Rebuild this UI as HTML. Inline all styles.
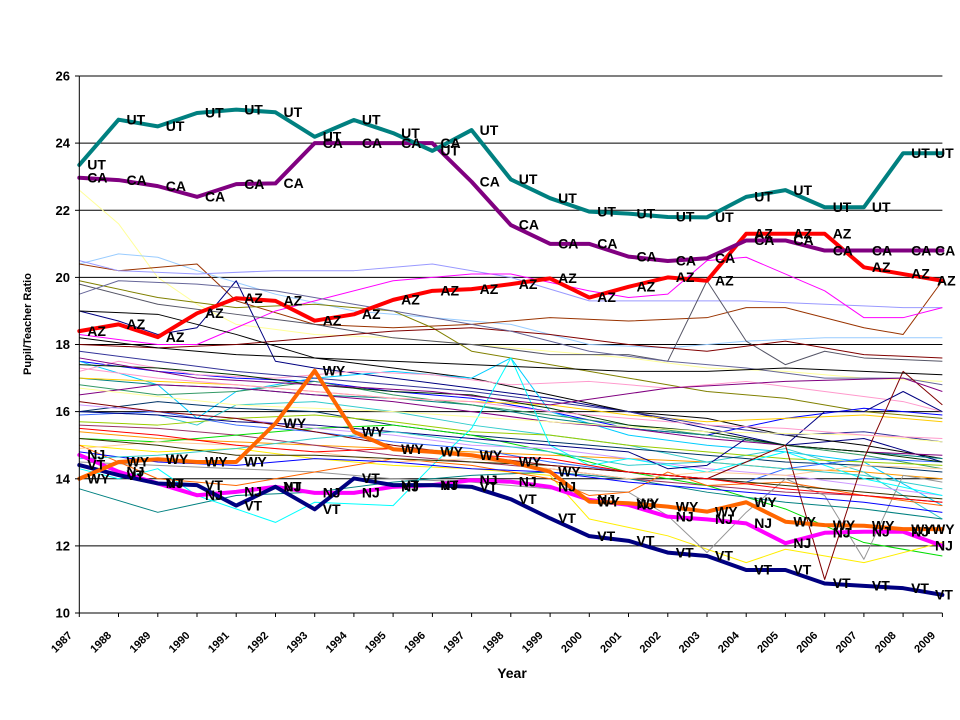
<!DOCTYPE html>
<html><head><meta charset="utf-8"><style>
html,body{margin:0;padding:0;background:#fff;}
svg{display:block;}
.t{font-family:"Liberation Sans",Arial,sans-serif;font-weight:bold;fill:#000;}
.th{fill:none;stroke-width:1;stroke-linejoin:round;}
.tk{fill:none;stroke-width:4;stroke-linejoin:round;stroke-linecap:round;}
.dl{font-family:"Liberation Sans",Arial,sans-serif;font-weight:bold;font-size:14px;fill:#000;}
</style></head><body>
<svg width="960" height="720" viewBox="0 0 960 720" xmlns="http://www.w3.org/2000/svg">
<rect width="960" height="720" fill="#fff"/>
<g stroke="#000" stroke-width="1">
<line x1="79.3" y1="76" x2="942.4" y2="76"/>
<line x1="79.3" y1="143.1" x2="942.4" y2="143.1"/>
<line x1="79.3" y1="210.3" x2="942.4" y2="210.3"/>
<line x1="79.3" y1="277.4" x2="942.4" y2="277.4"/>
<line x1="79.3" y1="344.5" x2="942.4" y2="344.5"/>
<line x1="79.3" y1="411.6" x2="942.4" y2="411.6"/>
<line x1="79.3" y1="478.8" x2="942.4" y2="478.8"/>
<line x1="79.3" y1="545.9" x2="942.4" y2="545.9"/>
</g>
<g transform="translate(79.3,948.6) scale(39.23,-33.56)">
<g class="th">
<polyline vector-effect="non-scaling-stroke" stroke="#FFFF99" points="0,22.6 1,21.6 2,20.0 3,19.2 4,18.6 6,18.3 8,18.2 10,18.0 12,17.8 14,17.6 16,17.3 18,17.2 20,17.0 22,16.9"/>
<polyline vector-effect="non-scaling-stroke" stroke="#99CCFF" points="0,20.4 1,20.7 2,20.6 3,20.2 5,19.5 7,19.0 9,18.8 11,18.6 13,18.0 15,17.9 17,18.1 19,18.2 21,18.2 22,18.2"/>
<polyline vector-effect="non-scaling-stroke" stroke="#993300" points="0,20.4 1,20.2 2,20.3 3,20.4 4,19.3 6,18.6 8,18.5 10,18.6 12,18.8 14,18.7 16,18.8 17,19.1 18,19.1 20,18.5 21,18.3 22,19.9"/>
<polyline vector-effect="non-scaling-stroke" stroke="#9999FF" points="0,20.5 1,20.2 3,20.1 5,20.2 7,20.2 9,20.4 11,20.0 13,19.3 15,19.3 17,19.3 19,19.2 21,19.1 22,19.1"/>
<polyline vector-effect="non-scaling-stroke" stroke="#FF00FF" points="0,18.3 2,18.0 3,18.0 5,19.0 6,19.3 8,19.9 10,20.1 11,20.1 13,19.6 14,19.4 15,19.5 16,20.5 17,20.6 19,19.6 20,18.8 21,18.8 22,19.1"/>
<polyline vector-effect="non-scaling-stroke" stroke="#808000" points="0,19.9 2,19.4 4,19.1 6,19.2 8,19.0 9,18.5 10,17.8 12,17.4 14,17.0 16,16.6 18,16.4 20,16.0 22,15.8"/>
<polyline vector-effect="non-scaling-stroke" stroke="#000080" points="0,19.0 1,18.7 2,18.3 3,18.5 4,19.9 5,17.5 6,17.3 8,17.0 10,16.7 12,16.4 14,16.0 16,15.5 18,15.0 20,15.2 22,14.5"/>
<polyline vector-effect="non-scaling-stroke" stroke="#555566" points="0,19.8 2,19.2 4,18.9 6,18.6 8,18.2 10,18.0 12,17.7 14,17.7 15,17.5 16,19.9 17,18.1 18,17.4 19,17.8 20,17.6 22,17.5"/>
<polyline vector-effect="non-scaling-stroke" stroke="#800000" points="0,18.0 2,17.9 4,18.0 6,18.2 8,18.4 10,18.5 12,18.3 14,18.0 16,17.8 18,18.1 20,17.7 22,17.6"/>
<polyline vector-effect="non-scaling-stroke" stroke="#000000" points="0,19.0 2,18.9 4,18.3 6,17.6 8,17.3 10,17.0 12,16.5 14,16.0 16,15.8 18,15.3 20,15.0 22,14.6"/>
<polyline vector-effect="non-scaling-stroke" stroke="#666699" points="0,19.5 1,19.9 3,19.8 5,19.6 7,19.2 9,18.8 11,18.4 13,17.8 15,17.5 17,17.3 19,17.0 21,17.0 22,16.8"/>
<polyline vector-effect="non-scaling-stroke" stroke="#0000FF" points="0,17.5 2,17.2 4,17.0 6,16.9 8,16.6 10,16.4 12,16.0 14,15.5 16,15.3 18,15.8 20,16.1 22,15.9"/>
<polyline vector-effect="non-scaling-stroke" stroke="#00CCFF" points="0,17.5 2,16.8 3,15.8 4,16.6 6,17.0 8,17.2 10,17.0 11,17.6 12,16.0 14,15.3 16,15.0 18,14.8 20,14.5 22,13.2"/>
<polyline vector-effect="non-scaling-stroke" stroke="#FF99CC" points="0,17.2 1,17.5 3,17.1 5,17.0 7,17.2 9,17.1 11,16.8 13,16.9 15,16.7 17,16.9 19,16.6 21,16.3 22,16.0"/>
<polyline vector-effect="non-scaling-stroke" stroke="#008080" points="0,17.0 2,16.8 4,16.7 6,16.5 8,16.4 10,16.2 12,15.8 14,15.5 16,15.3 18,15.0 20,14.8 22,14.6"/>
<polyline vector-effect="non-scaling-stroke" stroke="#339966" points="0,16.8 2,16.5 4,16.6 6,16.9 8,16.5 10,16.2 12,15.9 14,15.6 16,15.3 18,15.0 20,14.7 22,14.3"/>
<polyline vector-effect="non-scaling-stroke" stroke="#FFCC00" points="0,17.0 2,16.9 4,16.8 6,16.6 8,16.4 10,16.3 12,16.2 14,15.9 16,15.7 18,15.8 20,15.9 22,15.7"/>
<polyline vector-effect="non-scaling-stroke" stroke="#800080" points="0,16.5 2,16.8 4,16.7 6,16.5 8,16.3 10,16.0 12,15.7 14,15.5 16,15.2 18,15.0 20,14.8 22,14.7"/>
<polyline vector-effect="non-scaling-stroke" stroke="#FF9900" points="0,15.4 2,15.2 4,15.1 6,15.0 8,14.9 10,14.8 12,14.7 14,14.6 16,14.5 18,14.3 20,14.2 22,14.0"/>
<polyline vector-effect="non-scaling-stroke" stroke="#33CCCC" points="0,16.0 2,15.9 3,15.6 4,16.2 6,16.3 8,16.0 10,15.6 12,15.3 14,15.0 16,14.5 18,14.9 20,14.2 22,12.8"/>
<polyline vector-effect="non-scaling-stroke" stroke="#003366" points="0,16.0 2,16.3 4,16.1 6,16.0 8,15.6 10,15.3 12,15.1 14,14.9 16,14.7 18,14.5 20,14.4 22,14.2"/>
<polyline vector-effect="non-scaling-stroke" stroke="#993366" points="0,15.6 2,15.5 4,15.3 6,15.0 8,14.7 10,14.5 12,14.3 14,14.0 16,13.8 18,13.6 20,13.5 22,13.3"/>
<polyline vector-effect="non-scaling-stroke" stroke="#99CC00" points="0,15.7 2,15.6 4,15.8 6,15.9 8,15.7 10,15.4 12,15.3 14,15.0 16,14.8 18,14.6 20,14.5 22,14.4"/>
<polyline vector-effect="non-scaling-stroke" stroke="#00DD00" points="0,15.2 2,15.1 4,15.3 6,15.5 8,15.6 10,15.3 12,14.8 14,14.2 16,13.8 18,13.1 20,12.1 22,11.7"/>
<polyline vector-effect="non-scaling-stroke" stroke="#FFEE00" points="0,15.0 2,14.8 4,14.9 6,14.6 8,14.4 10,14.3 12,14.1 13,12.8 15,12.3 17,11.5 18,11.9 20,11.5 22,12.1"/>
<polyline vector-effect="non-scaling-stroke" stroke="#CC99FF" points="0,16.2 2,16.0 4,15.8 6,15.5 8,15.3 10,15.0 12,14.9 14,14.6 16,14.3 18,14.1 20,13.8 22,13.5"/>
<polyline vector-effect="non-scaling-stroke" stroke="#969696" points="0,14.5 2,14.4 4,14.3 6,14.2 8,14.0 10,13.9 12,13.7 14,13.6 15,12.9 16,11.8 17,13.0 18,14.0 19,13.5 20,11.6 21,14.1 22,13.9"/>
<polyline vector-effect="non-scaling-stroke" stroke="#008080" points="0,13.7 2,13.0 4,13.5 6,13.6 8,13.9 10,14.1 12,14.2 14,14.0 16,13.6 18,13.3 20,13.1 22,12.8"/>
<polyline vector-effect="non-scaling-stroke" stroke="#00FFFF" points="0,14.3 1,14.0 2,14.3 3,13.5 5,12.7 6,13.3 8,13.2 9,14.4 10,15.5 11,17.6 12,15.0 13,14.4 14,14.6 16,14.2 18,14.8 20,14.0 22,13.5"/>
<polyline vector-effect="non-scaling-stroke" stroke="#FF6600" points="0,15.0 2,14.0 4,13.8 5,14.0 6,14.2 8,14.6 10,14.4 12,14.0 13,13.5 14,13.6 15,14.2 16,13.8 18,13.9 20,13.5 22,13.2"/>
<polyline vector-effect="non-scaling-stroke" stroke="#3366FF" points="0,15.9 2,16.0 4,15.6 6,15.4 8,15.1 10,14.9 12,14.5 14,14.2 16,14.0 17,13.9 18,14.3 20,14.6 22,14.5"/>
<polyline vector-effect="non-scaling-stroke" stroke="#FFCC99" points="0,14.9 2,15.1 4,15.0 6,14.8 8,14.5 10,14.6 12,14.3 14,14.0 16,14.2 18,14.1 20,14.4 22,14.3"/>
<polyline vector-effect="non-scaling-stroke" stroke="#000080" points="0,16.0 2,15.9 4,15.7 6,15.6 8,15.4 10,15.2 12,15.0 14,14.8 15,14.3 16,14.4 17,15.2 18,15.0 19,16.0 20,16.0 21,16.6 22,16.0"/>
<polyline vector-effect="non-scaling-stroke" stroke="#333399" points="0,17.8 2,17.5 4,17.2 6,17.0 8,16.8 10,16.6 12,16.3 14,16.0 16,15.6 18,15.3 20,15.4 22,15.1"/>
<polyline vector-effect="non-scaling-stroke" stroke="#003300" points="0,17.4 2,17.3 4,17.1 6,16.8 8,16.6 10,16.5 12,16.1 14,15.6 16,15.4 18,15.0 20,14.8 22,14.5"/>
<polyline vector-effect="non-scaling-stroke" stroke="#333300" points="0,15.2 2,15.0 4,14.7 6,14.7 8,14.6 10,14.5 12,14.4 14,14.2 16,14.0 18,13.8 20,13.6 22,13.4"/>
<polyline vector-effect="non-scaling-stroke" stroke="#800000" points="0,16.3 2,16.0 4,15.8 6,15.4 8,15.0 10,14.7 12,14.4 14,14.2 16,14.0 17,14.5 18,15.0 19,11.0 20,14.6 21,17.2 22,16.2"/>
<polyline vector-effect="non-scaling-stroke" stroke="#FF0000" points="0,15.5 2,15.3 4,15.0 6,14.8 8,14.9 10,14.7 12,14.6 14,14.2 16,14.0 18,13.7 20,13.5 22,13.3"/>
<polyline vector-effect="non-scaling-stroke" stroke="#0000FF" points="0,14.8 2,14.5 4,14.4 6,14.6 8,14.5 10,14.3 12,14.2 14,13.9 16,13.7 18,13.5 20,13.3 22,13.0"/>
<polyline vector-effect="non-scaling-stroke" stroke="#FFFF99" points="0,16.7 4,16.2 8,16.0 12,15.7 16,15.4 20,15.3 22,15.1"/>
<polyline vector-effect="non-scaling-stroke" stroke="#FF99CC" points="0,17.3 2,17.0 4,16.8 6,16.6 8,16.4 10,16.3 12,16.0 14,15.8 16,15.6 18,15.5 20,15.3 22,15.2"/>
<polyline vector-effect="non-scaling-stroke" stroke="#800080" points="0,17.6 3,17.0 6,16.8 9,16.6 12,16.2 15,16.7 18,16.9 21,17.0 22,16.6"/>
<polyline vector-effect="non-scaling-stroke" stroke="#000000" points="0,18.2 2,17.9 4,17.7 6,17.6 8,17.5 10,17.4 12,17.3 14,17.2 16,17.2 18,17.3 20,17.2 22,17.1"/>
<polyline vector-effect="non-scaling-stroke" stroke="#33CCCC" points="0,14.6 2,14.7 4,14.9 6,15.2 8,15.4 10,15.1 12,14.8 14,14.4 16,14.5 18,14.3 20,14.1 22,13.7"/>
</g>
<g class="tk">
<polyline vector-effect="non-scaling-stroke" stroke="#FF0000" points="0,18.4 1,18.6 2,18.22 3,18.93 4,19.38 5,19.3 6,18.71 7,18.9 8,19.33 9,19.6 10,19.65 11,19.8 12,19.97 13,19.4 14,19.72 15,20.0 16,19.9 17,21.3 18,21.3 19,21.3 20,20.3 21,20.1 22,19.9"/>
<polyline vector-effect="non-scaling-stroke" stroke="#800080" points="0,22.97 1,22.9 2,22.72 3,22.4 4,22.78 5,22.8 6,24.0 7,24.0 8,24.0 9,24.0 10,22.85 11,21.56 12,21.0 13,21.0 14,20.62 15,20.49 16,20.57 17,21.1 18,21.1 19,20.8 20,20.8 21,20.8 22,20.8"/>
<polyline vector-effect="non-scaling-stroke" stroke="#FF00FF" points="0,14.71 1,14.21 2,13.86 3,13.51 4,13.61 5,13.76 6,13.58 7,13.58 8,13.76 9,13.81 10,13.96 11,13.91 12,13.76 13,13.37 14,13.22 15,12.87 16,12.79 17,12.67 18,12.08 19,12.39 20,12.42 21,12.42 22,12.0"/>
<polyline vector-effect="non-scaling-stroke" stroke="#008080" points="0,23.35 1,24.7 2,24.5 3,24.9 4,25.0 5,24.92 6,24.19 7,24.69 8,24.3 9,23.77 10,24.39 11,22.92 12,22.36 13,21.96 14,21.9 15,21.8 16,21.79 17,22.4 18,22.6 19,22.09 20,22.09 21,23.7 22,23.7"/>
<polyline vector-effect="non-scaling-stroke" stroke="#000080" points="0,14.41 1,14.11 2,13.86 3,13.81 4,13.2 5,13.76 6,13.09 7,14.01 8,13.81 9,13.81 10,13.76 11,13.39 12,12.82 13,12.29 14,12.15 15,11.8 16,11.7 17,11.28 18,11.28 19,10.88 20,10.81 21,10.74 22,10.54"/>
<polyline vector-effect="non-scaling-stroke" stroke="#FF6600" points="0,14.0 1,14.5 2,14.58 3,14.5 4,14.5 5,15.65 6,17.22 7,15.4 8,14.88 9,14.8 10,14.7 11,14.5 12,14.21 13,13.32 14,13.27 15,13.17 16,13.02 17,13.3 18,12.72 19,12.62 20,12.6 21,12.5 22,12.5"/>
</g>
</g>
<g stroke="#000" stroke-width="1">
<line x1="79.3" y1="76" x2="79.3" y2="613"/>
<line x1="79.3" y1="613" x2="942.4" y2="613"/>
<line x1="75" y1="76" x2="79.3" y2="76"/>
<line x1="75" y1="143.1" x2="79.3" y2="143.1"/>
<line x1="75" y1="210.3" x2="79.3" y2="210.3"/>
<line x1="75" y1="277.4" x2="79.3" y2="277.4"/>
<line x1="75" y1="344.5" x2="79.3" y2="344.5"/>
<line x1="75" y1="411.6" x2="79.3" y2="411.6"/>
<line x1="75" y1="478.8" x2="79.3" y2="478.8"/>
<line x1="75" y1="545.9" x2="79.3" y2="545.9"/>
<line x1="75" y1="613" x2="79.3" y2="613"/>
</g>
<g stroke="#000" stroke-width="1">
<line x1="79.3" y1="613" x2="79.3" y2="617"/><line x1="118.5" y1="613" x2="118.5" y2="617"/><line x1="157.8" y1="613" x2="157.8" y2="617"/><line x1="197" y1="613" x2="197" y2="617"/><line x1="236.2" y1="613" x2="236.2" y2="617"/><line x1="275.5" y1="613" x2="275.5" y2="617"/><line x1="314.7" y1="613" x2="314.7" y2="617"/><line x1="353.9" y1="613" x2="353.9" y2="617"/><line x1="393.1" y1="613" x2="393.1" y2="617"/><line x1="432.4" y1="613" x2="432.4" y2="617"/><line x1="471.6" y1="613" x2="471.6" y2="617"/><line x1="510.8" y1="613" x2="510.8" y2="617"/><line x1="550.1" y1="613" x2="550.1" y2="617"/><line x1="589.3" y1="613" x2="589.3" y2="617"/><line x1="628.5" y1="613" x2="628.5" y2="617"/><line x1="667.8" y1="613" x2="667.8" y2="617"/><line x1="707" y1="613" x2="707" y2="617"/><line x1="746.2" y1="613" x2="746.2" y2="617"/><line x1="785.4" y1="613" x2="785.4" y2="617"/><line x1="824.7" y1="613" x2="824.7" y2="617"/><line x1="863.9" y1="613" x2="863.9" y2="617"/><line x1="903.1" y1="613" x2="903.1" y2="617"/><line x1="942.4" y1="613" x2="942.4" y2="617"/>
</g>
<g class="t" font-size="13" text-anchor="end">
<text x="70" y="80.5">26</text>
<text x="70" y="147.6">24</text>
<text x="70" y="214.8">22</text>
<text x="70" y="281.9">20</text>
<text x="70" y="349">18</text>
<text x="70" y="416.1">16</text>
<text x="70" y="483.3">14</text>
<text x="70" y="550.4">12</text>
<text x="70" y="617.5">10</text>
</g>
<g class="t" font-size="11" text-anchor="end">
<text transform="translate(72.8,636) rotate(-45)">1987</text>
<text transform="translate(112,636) rotate(-45)">1988</text>
<text transform="translate(151.3,636) rotate(-45)">1989</text>
<text transform="translate(190.5,636) rotate(-45)">1990</text>
<text transform="translate(229.7,636) rotate(-45)">1991</text>
<text transform="translate(269,636) rotate(-45)">1992</text>
<text transform="translate(308.2,636) rotate(-45)">1993</text>
<text transform="translate(347.4,636) rotate(-45)">1994</text>
<text transform="translate(386.6,636) rotate(-45)">1995</text>
<text transform="translate(425.9,636) rotate(-45)">1996</text>
<text transform="translate(465.1,636) rotate(-45)">1997</text>
<text transform="translate(504.3,636) rotate(-45)">1998</text>
<text transform="translate(543.6,636) rotate(-45)">1999</text>
<text transform="translate(582.8,636) rotate(-45)">2000</text>
<text transform="translate(622,636) rotate(-45)">2001</text>
<text transform="translate(661.3,636) rotate(-45)">2002</text>
<text transform="translate(700.5,636) rotate(-45)">2003</text>
<text transform="translate(739.7,636) rotate(-45)">2004</text>
<text transform="translate(778.9,636) rotate(-45)">2005</text>
<text transform="translate(818.2,636) rotate(-45)">2006</text>
<text transform="translate(857.4,636) rotate(-45)">2007</text>
<text transform="translate(896.6,636) rotate(-45)">2008</text>
<text transform="translate(935.9,636) rotate(-45)">2009</text>
</g>
<text class="t" font-size="11" text-anchor="middle" transform="translate(31,324) rotate(-90)">Pupil/Teacher Ratio</text>
<text class="t" font-size="14" text-anchor="middle" x="512" y="678">Year</text>
<g class="dl">
<text x="87.3" y="335.8">AZ</text><text x="126.5" y="329.1">AZ</text><text x="165.8" y="341.8">AZ</text><text x="205" y="318">AZ</text><text x="244.2" y="302.9">AZ</text><text x="283.5" y="305.6">AZ</text><text x="322.7" y="325.4">AZ</text><text x="361.9" y="319">AZ</text><text x="401.1" y="304.6">AZ</text><text x="440.4" y="295.5">AZ</text><text x="479.6" y="293.8">AZ</text><text x="518.8" y="288.8">AZ</text><text x="558.1" y="283.1">AZ</text><text x="597.3" y="302.2">AZ</text><text x="636.5" y="291.5">AZ</text><text x="675.8" y="282.1">AZ</text><text x="715" y="285.5">AZ</text><text x="754.2" y="238.5">AZ</text><text x="793.4" y="238.5">AZ</text><text x="832.7" y="238.5">AZ</text><text x="871.9" y="272">AZ</text><text x="911.1" y="278.7">AZ</text><text x="937" y="285.5">AZ</text>
<text x="87.3" y="182.4">CA</text><text x="126.5" y="184.8">CA</text><text x="165.8" y="190.8">CA</text><text x="205" y="201.6">CA</text><text x="244.2" y="188.8">CA</text><text x="283.5" y="188.1">CA</text><text x="322.7" y="147.9">CA</text><text x="361.9" y="147.9">CA</text><text x="401.1" y="147.9">CA</text><text x="440.4" y="147.9">CA</text><text x="479.6" y="186.5">CA</text><text x="518.8" y="229.7">CA</text><text x="558.1" y="248.5">CA</text><text x="597.3" y="248.5">CA</text><text x="636.5" y="261.3">CA</text><text x="675.8" y="265.7">CA</text><text x="715" y="263">CA</text><text x="754.2" y="245.2">CA</text><text x="793.4" y="245.2">CA</text><text x="832.7" y="255.3">CA</text><text x="871.9" y="255.3">CA</text><text x="911.1" y="255.3">CA</text><text x="935" y="255.3">CA</text>
<text x="87.3" y="459.6">NJ</text><text x="126.5" y="476.4">NJ</text><text x="165.8" y="488.2">NJ</text><text x="205" y="499.9">NJ</text><text x="244.2" y="496.5">NJ</text><text x="283.5" y="491.5">NJ</text><text x="322.7" y="497.6">NJ</text><text x="361.9" y="497.6">NJ</text><text x="401.1" y="491.5">NJ</text><text x="440.4" y="489.8">NJ</text><text x="479.6" y="484.8">NJ</text><text x="518.8" y="486.5">NJ</text><text x="558.1" y="491.5">NJ</text><text x="597.3" y="504.6">NJ</text><text x="636.5" y="509.6">NJ</text><text x="675.8" y="521.4">NJ</text><text x="715" y="524.1">NJ</text><text x="754.2" y="528.1">NJ</text><text x="793.4" y="547.9">NJ</text><text x="832.7" y="537.5">NJ</text><text x="871.9" y="536.5">NJ</text><text x="911.1" y="536.5">NJ</text><text x="935" y="550.6">NJ</text>
<text x="87.3" y="169.7">UT</text><text x="126.5" y="124.4">UT</text><text x="165.8" y="131.1">UT</text><text x="205" y="117.7">UT</text><text x="244.2" y="114.3">UT</text><text x="283.5" y="117">UT</text><text x="322.7" y="141.5">UT</text><text x="361.9" y="124.7">UT</text><text x="401.1" y="137.8">UT</text><text x="440.4" y="155.6">UT</text><text x="479.6" y="134.8">UT</text><text x="518.8" y="184.1">UT</text><text x="558.1" y="202.9">UT</text><text x="597.3" y="216.3">UT</text><text x="636.5" y="218.3">UT</text><text x="675.8" y="221.7">UT</text><text x="715" y="222">UT</text><text x="754.2" y="201.6">UT</text><text x="793.4" y="194.8">UT</text><text x="832.7" y="212">UT</text><text x="871.9" y="212">UT</text><text x="911.1" y="157.9">UT</text><text x="935" y="157.9">UT</text>
<text x="87.3" y="469.7">VT</text><text x="126.5" y="479.8">VT</text><text x="165.8" y="488.2">VT</text><text x="205" y="489.8">VT</text><text x="244.2" y="510.3">VT</text><text x="283.5" y="491.5">VT</text><text x="322.7" y="514">VT</text><text x="361.9" y="483.1">VT</text><text x="401.1" y="489.8">VT</text><text x="440.4" y="489.8">VT</text><text x="479.6" y="491.5">VT</text><text x="518.8" y="503.9">VT</text><text x="558.1" y="523.1">VT</text><text x="597.3" y="540.8">VT</text><text x="636.5" y="545.5">VT</text><text x="675.8" y="557.3">VT</text><text x="715" y="560.6">VT</text><text x="754.2" y="574.7">VT</text><text x="793.4" y="574.7">VT</text><text x="832.7" y="588.2">VT</text><text x="871.9" y="590.5">VT</text><text x="911.1" y="592.9">VT</text><text x="935" y="599.6">VT</text>
<text x="87.3" y="483.5">WY</text><text x="126.5" y="466.7">WY</text><text x="165.8" y="464">WY</text><text x="205" y="466.7">WY</text><text x="244.2" y="466.7">WY</text><text x="283.5" y="428.1">WY</text><text x="322.7" y="375.4">WY</text><text x="361.9" y="436.5">WY</text><text x="401.1" y="453.9">WY</text><text x="440.4" y="456.6">WY</text><text x="479.6" y="460">WY</text><text x="518.8" y="466.7">WY</text><text x="558.1" y="476.4">WY</text><text x="597.3" y="506.3">WY</text><text x="636.5" y="508">WY</text><text x="675.8" y="511.3">WY</text><text x="715" y="516.3">WY</text><text x="754.2" y="507">WY</text><text x="793.4" y="526.4">WY</text><text x="832.7" y="529.8">WY</text><text x="871.9" y="530.4">WY</text><text x="911.1" y="533.8">WY</text><text x="932" y="533.8">WY</text>
</g>
</svg>
</body></html>
